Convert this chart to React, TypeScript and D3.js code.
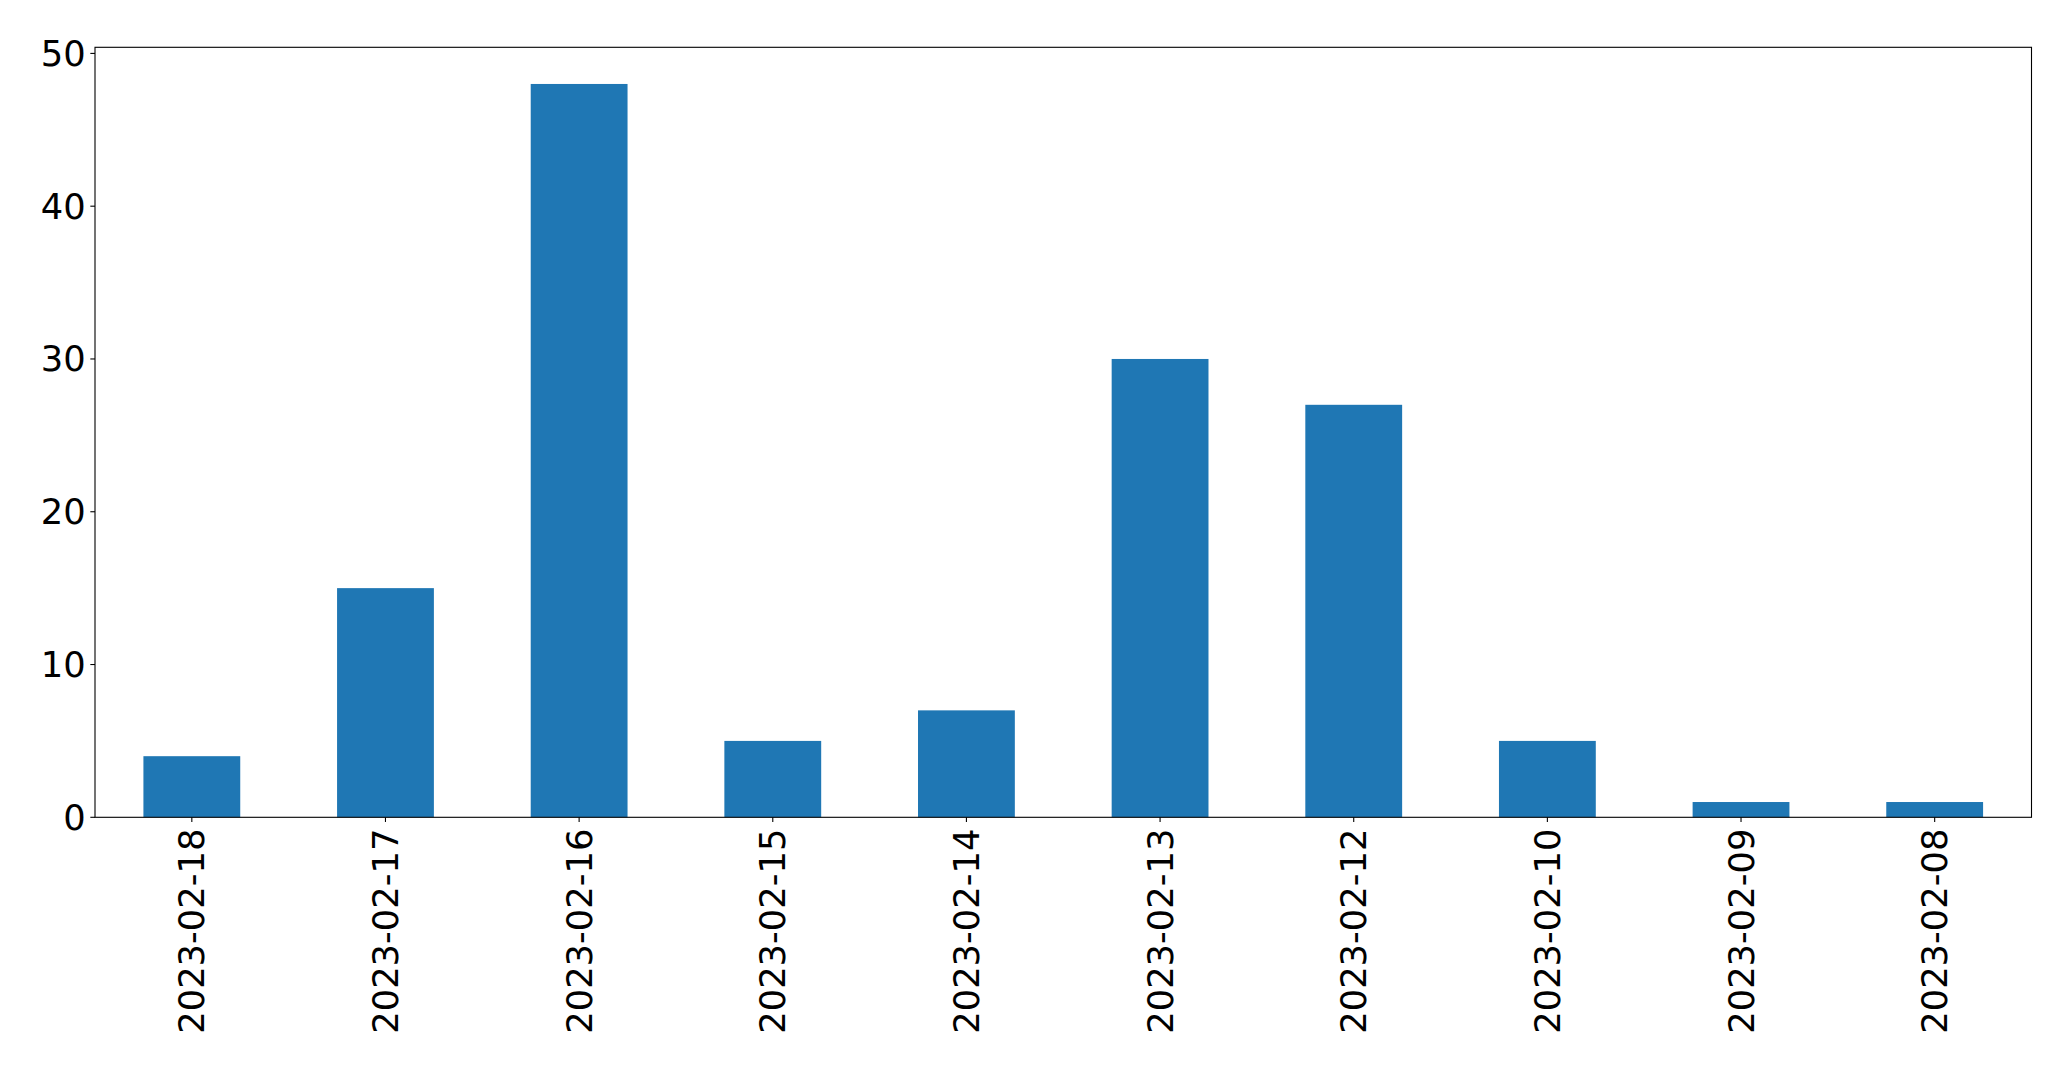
import React from "react";
import * as d3 from "d3";

const categories = ["2023-02-18", "2023-02-17", "2023-02-16", "2023-02-15", "2023-02-14", "2023-02-13", "2023-02-12", "2023-02-10", "2023-02-09", "2023-02-08"];
const values = [4, 15, 48, 5, 7, 30, 27, 5, 1, 1];
const yTicks = [0, 10, 20, 30, 40, 50];

const W = 2071;
const H = 1069;
const left = 95;
const right = 2031.5;
const top = 47.3;
const bottom = 817.3;
const FONT = "'DejaVu Sans', sans-serif";
const FS = 35.3;

export default function App() {
  const x = d3.scaleLinear().domain([-0.5, categories.length - 0.5]).range([left, right]);
  const yMax = d3.max(values)! * 1.05;
  const y = d3.scaleLinear().domain([0, yMax]).range([bottom, top]);
  const bw = x(0.25) - x(-0.25);
  const tick = 4.67;
  const pad = 4.67;
  return (
    <svg width={W} height={H} style={{ position: "absolute", left: 0, top: 0, background: "#fff" }}>
      <rect x={0} y={0} width={W} height={H} fill="#fff" />
      {values.map((v, i) => (
        <rect key={i} x={x(i) - bw / 2} y={y(v)} width={bw} height={y(0) - y(v)} fill="#1f77b4" />
      ))}
      <rect x={left} y={top} width={right - left} height={bottom - top} fill="none" stroke="#000" strokeWidth={1.1} />
      {yTicks.map((t) => (
        <g key={t}>
          <line x1={left - tick} x2={left} y1={y(t)} y2={y(t)} stroke="#000" strokeWidth={1.1} />
          <text x={left - tick - pad} y={y(t)} textAnchor="end" dominantBaseline="central" fontFamily={FONT} fontSize={FS} fill="#000">
            {t}
          </text>
        </g>
      ))}
      {categories.map((c, i) => (
        <g key={c}>
          <line x1={x(i)} x2={x(i)} y1={bottom} y2={bottom + tick} stroke="#000" strokeWidth={1.1} />
          <text
            transform={`translate(${x(i)},${bottom + tick + pad + 2}) rotate(-90)`}
            textAnchor="end"
            dominantBaseline="central"
            fontFamily={FONT}
            fontSize={FS}
            fill="#000"
          >
            {c}
          </text>
        </g>
      ))}
    </svg>
  );
}
